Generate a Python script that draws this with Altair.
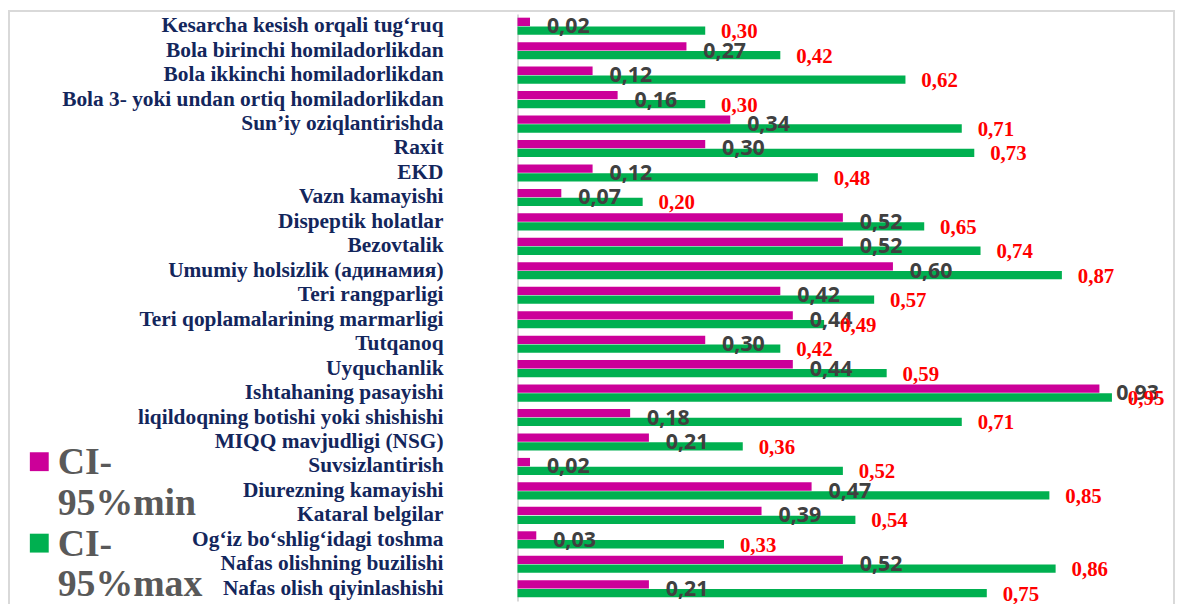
import altair as alt
import pandas as pd

categories = [
    "Kesarcha kesish orqali tug‘ruq",
    "Bola birinchi homiladorlikdan",
    "Bola ikkinchi homiladorlikdan",
    "Bola 3- yoki undan ortiq homiladorlikdan",
    "Sun’iy oziqlantirishda",
    "Raxit",
    "EKD",
    "Vazn kamayishi",
    "Dispeptik holatlar",
    "Bezovtalik",
    "Umumiy holsizlik (адинамия)",
    "Teri rangparligi",
    "Teri qoplamalarining marmarligi",
    "Tutqanoq",
    "Uyquchanlik",
    "Ishtahaning pasayishi",
    "liqildoqning botishi yoki shishishi",
    "MIQQ mavjudligi (NSG)",
    "Suvsizlantirish",
    "Diurezning kamayishi",
    "Kataral belgilar",
    "Og‘iz bo‘shlig‘idagi toshma",
    "Nafas olishning buzilishi",
    "Nafas olish qiyinlashishi",
]
ci_min = [0.02, 0.27, 0.12, 0.16, 0.34, 0.30, 0.12, 0.07, 0.52, 0.52, 0.60, 0.42,
          0.44, 0.30, 0.44, 0.93, 0.18, 0.21, 0.02, 0.47, 0.39, 0.03, 0.52, 0.21]
ci_max = [0.30, 0.42, 0.62, 0.30, 0.71, 0.73, 0.48, 0.20, 0.65, 0.74, 0.87, 0.57,
          0.49, 0.42, 0.59, 0.95, 0.71, 0.36, 0.52, 0.85, 0.54, 0.33, 0.86, 0.75]
series = ["CI-95%min", "CI-95%max"]
series_lines = [["CI-", "95%min"], ["CI-", "95%max"]]
colors = ["#CC0099", "#00B050"]

rows = []
for c, lo, hi in zip(categories, ci_min, ci_max):
    rows.append({"cat": c, "series": series[0], "value": lo})
    rows.append({"cat": c, "series": series[1], "value": hi})
df = pd.DataFrame(rows)
df["label"] = df["value"].map(lambda v: f"{v:.2f}".replace(".", ","))

y_enc = alt.Y(
    "cat:N",
    sort=categories,
    scale=alt.Scale(paddingInner=0.3, paddingOuter=0.15),
    axis=alt.Axis(
        title=None, ticks=False, labelPadding=75, labelLimit=600,
        labelFont="Liberation Serif", labelFontWeight="bold", labelFontSize=21.5,
        labelColor="#13265C", domainColor="#D9D9D9", domainWidth=2, grid=False,
    ),
)
x_enc = alt.X("value:Q", scale=alt.Scale(domain=[0, 1], nice=False, zero=True), axis=None)

base = alt.Chart(df)

bars = base.mark_bar().encode(
    x=x_enc,
    y=y_enc,
    yOffset=alt.YOffset("series:N", sort=series, scale=alt.Scale(paddingInner=0.06)),
    color=alt.Color("series:N", scale=alt.Scale(domain=series, range=colors), legend=None),
)

min_labels = base.transform_filter(alt.datum.series == series[0]).mark_text(
    align="left", baseline="middle", dx=17, dy=1,
    font="Open Sans", fontWeight="bold", fontSize=21.5, color="#404040",
).encode(x=x_enc, y=y_enc, text="label:N")

max_labels = base.transform_filter(alt.datum.series == series[1]).mark_text(
    align="left", baseline="middle", dx=16, dy=6,
    font="Liberation Serif", fontWeight="bold", fontSize=21, color="#FF0000",
).encode(x=x_enc, y=y_enc, text="label:N")

# outer frame
frame_df = pd.DataFrame({"k": [0]})
frame = alt.Chart(frame_df).mark_rect(fill=None, stroke="#D9D9D9", strokeWidth=2).encode(
    x=alt.value(-512), x2=alt.value(661), y=alt.value(-3), y2=alt.value(610)
)

# legend (manual, placed left of the axis labels)
legend_layers = []
legend_y = [450.75, 532.75]
for name, lines, col, ly in zip(series, series_lines, colors, legend_y):
    ldf = pd.DataFrame({"series": [name], "text": ["\n".join(lines)]})
    sq = alt.Chart(ldf).mark_square(size=361, opacity=1, color=col).encode(
        x=alt.value(-481.5), y=alt.value(ly)
    )
    tx = alt.Chart(ldf).mark_text(
        align="left", baseline="alphabetic", lineBreak="\n", lineHeight=41,
        font="Liberation Serif", fontWeight="bold", fontSize=38, color="#595959",
    ).encode(x=alt.value(-463), y=alt.value(ly + 12.5), text="text:N")
    legend_layers += [sq, tx]

chart = alt.layer(frame, bars, min_labels, max_labels, *legend_layers).properties(
    width=630,
    height=591,
    padding={"left": 513, "top": 4, "right": 33, "bottom": 4},
    autosize=alt.AutoSizeParams(type="none"),
    background="white",
).configure_view(stroke=None)

chart.save("out.html", embed_options={"renderer": "svg", "actions": False})
